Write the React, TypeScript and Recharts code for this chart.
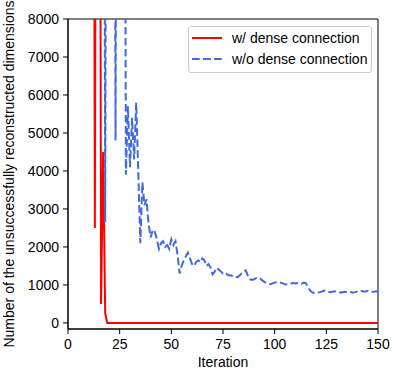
import { LineChart, Line, XAxis, YAxis, Legend, ReferenceArea } from 'recharts';

const FONT = '"Liberation Sans", Arial, sans-serif';

const X_TICKS = [0, 25, 50, 75, 100, 125, 150];
const Y_TICKS = [0, 1000, 2000, 3000, 4000, 5000, 6000, 7000, 8000];

// one value per iteration (0..150); values over 8000 run off the top of the plot
const WITH_DENSE = [
  30000, 30000, 30000, 30000, 30000, 30000, 30000, 30000, 30000, 30000,
  30000, 30000, 30000, 2500, 30000, 30000, 500, 4500, 250, 0,
  0, 0, 0, 0, 0, 0, 0, 0, 0, 0,
  0, 0, 0, 0, 0, 0, 0, 0, 0, 0,
  0, 0, 0, 0, 0, 0, 0, 0, 0, 0,
  0, 0, 0, 0, 0, 0, 0, 0, 0, 0,
  0, 0, 0, 0, 0, 0, 0, 0, 0, 0,
  0, 0, 0, 0, 0, 0, 0, 0, 0, 0,
  0, 0, 0, 0, 0, 0, 0, 0, 0, 0,
  0, 0, 0, 0, 0, 0, 0, 0, 0, 0,
  0, 0, 0, 0, 0, 0, 0, 0, 0, 0,
  0, 0, 0, 0, 0, 0, 0, 0, 0, 0,
  0, 0, 0, 0, 0, 0, 0, 0, 0, 0,
  0, 0, 0, 0, 0, 0, 0, 0, 0, 0,
  0, 0, 0, 0, 0, 0, 0, 0, 0, 0,
  0,
];

const WITHOUT_DENSE = [
  30000, 30000, 30000, 30000, 30000, 30000, 30000, 30000, 30000, 30000,
  30000, 30000, 30000, 30000, 30000, 30000, 30000, 30000, 2650, 30000,
  30000, 30000, 30000, 4800, 30000, 30000, 30000, 30000, 3900, 5700,
  4100, 5400, 4300, 5800, 4000, 2100, 3700, 3100, 3250, 2600,
  2250, 2450, 2400, 2200, 1950, 2100, 2150, 2000, 2050, 1950,
  2200, 2050, 2150, 1800, 1300, 1500, 1650, 1750, 1850, 1700,
  1550, 1500, 1600, 1650, 1600, 1700, 1650, 1500, 1550, 1450,
  1280, 1350, 1450, 1400, 1350, 1300, 1320, 1280, 1250, 1250,
  1220, 1230, 1200, 1250, 1300, 1350, 1380, 1250, 1150, 1130,
  1150, 1180, 1190, 1170, 1120, 1080, 1050, 1030, 1020, 1040,
  1060, 1070, 1070, 1060, 1040, 1020, 1010, 1020, 1040, 1050,
  1040, 1050, 1040, 1030, 1060, 1050, 960, 860, 810, 790,
  800, 800, 810, 830, 850, 840, 820, 810, 820, 830,
  820, 810, 800, 810, 820, 810, 800, 810, 800, 810,
  830, 840, 840, 830, 830, 840, 830, 820, 820, 830,
  820,
];

const SERIES = [
  { key: 'dense', name: 'w/ dense connection', color: '#ff0000', dash: undefined as string | undefined },
  { key: 'noDense', name: 'w/o dense connection', color: '#4169e1', dash: '7.7 3.3' },
];

const chartData = WITH_DENSE.map((v, i) => ({
  iteration: i,
  dense: v,
  noDense: WITHOUT_DENSE[i],
}));

const tickStyle = { fontSize: 14, fill: '#000', fontFamily: FONT };

function YLabel({ viewBox }: any) {
  const cx = viewBox.x + 13.5;
  const cy = viewBox.y + viewBox.height / 2;
  return (
    <text
      transform={`translate(${cx}, ${cy}) rotate(-90)`}
      textAnchor="middle"
      fontSize={14}
      fontFamily={FONT}
      fill="#000"
    >
      Number of the unsuccessfully reconstructed dimensions
    </text>
  );
}

function XLabel({ viewBox }: any) {
  return (
    <text
      x={viewBox.x + viewBox.width / 2}
      y={viewBox.y + 37.5}
      textAnchor="middle"
      fontSize={14}
      fontFamily={FONT}
      fill="#000"
    >
      Iteration
    </text>
  );
}

function LegendBox() {
  return (
    <div
      style={{
        width: 184,
        height: 47,
        boxSizing: 'border-box',
        border: '1px solid #cccccc',
        borderRadius: 3,
        background: 'rgba(255,255,255,0.8)',
        fontFamily: FONT,
        fontSize: 14,
        color: '#000',
      }}
    >
      {SERIES.map(s => (
        <div key={s.key} style={{ display: 'flex', alignItems: 'center', height: 21.6, paddingLeft: 3 }}>
          <svg width={30} height={4} style={{ display: 'block' }}>
            <line x1={0} y1={2} x2={30} y2={2} stroke={s.color} strokeWidth={2} strokeDasharray={s.dash} />
          </svg>
          <span style={{ marginLeft: 10, lineHeight: '16px', whiteSpace: 'nowrap' }}>{s.name}</span>
        </div>
      ))}
    </div>
  );
}

export default function App() {
  return (
    <div style={{ position: 'absolute', left: 0, top: 0, background: '#fff' }}>
      <LineChart
        width={394}
        height={372}
        data={chartData}
        margin={{ top: 19, right: 16, bottom: 0, left: 0 }}
      >
        <XAxis
          dataKey="iteration"
          type="number"
          domain={[0, 150]}
          ticks={X_TICKS}
          height={43}
          tick={tickStyle}
          tickSize={5}
          tickMargin={5}
          tickLine={{ stroke: '#000' }}
          axisLine={{ stroke: '#000' }}
          label={(p: any) => <XLabel {...p} />}
        />
        <YAxis
          type="number"
          domain={[-160, 8000]}
          ticks={Y_TICKS}
          allowDataOverflow
          width={68}
          tick={tickStyle}
          tickSize={5}
          tickMargin={4}
          tickLine={{ stroke: '#000' }}
          axisLine={{ stroke: '#000' }}
          label={(p: any) => <YLabel {...p} />}
        />
        <ReferenceArea x1={0} x2={150} y1={-160} y2={8000} fill="none" stroke="#000" strokeWidth={1} />
        {SERIES.map(s => (
          <Line
            key={s.key}
            type="linear"
            dataKey={s.key}
            name={s.name}
            stroke={s.color}
            strokeWidth={2}
            strokeDasharray={s.dash}
            dot={false}
            activeDot={false}
            isAnimationActive={false}
          />
        ))}
        <Legend
          layout="vertical"
          align="center"
          verticalAlign="middle"
          wrapperStyle={{ left: 188, top: 26, width: 184, height: 47 }}
          content={() => <LegendBox />}
        />
      </LineChart>
    </div>
  );
}
